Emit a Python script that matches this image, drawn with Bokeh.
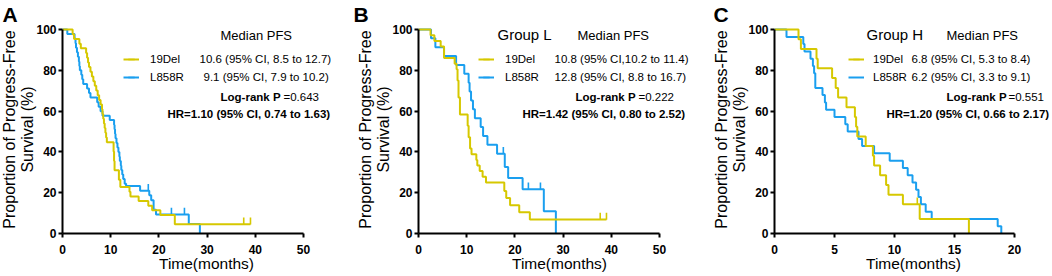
import math
from bokeh.plotting import figure
from bokeh.layouts import row
from bokeh.models import Range1d, Label, Legend, LegendItem, FixedTicker, ColumnDataSource, Title
from bokeh.transform import dodge
from bokeh.embed import file_html
from bokeh.resources import INLINE

FONT = "Liberation Sans"
YELLOW = "#D6C800"
BLUE = "#1A9FEF"

# ---------------- data (Kaplan-Meier step points: time in months, survival %) ----------------
# Panel A - all patients
A_del_t = [0, 2.1, 2.4, 3.5, 3.8, 4.9, 5.1, 5.3, 5.5, 5.8, 6.1, 6.4, 6.7, 7.0, 7.3, 7.6, 7.9, 8.2, 8.3, 8.45,
           8.6, 8.75, 8.9, 9.05, 9.2, 10.6, 10.7, 10.8, 11.7, 12.0, 13.9, 14.1, 15.8, 17.8, 18.6, 20.3, 23.3, 39.0]
A_del_s = [100, 97.7, 95.4, 93.1, 90.8, 88.5, 86.2, 83.9, 81.6, 79.3, 77.0, 74.7, 72.4, 70.1, 67.8, 65.5, 63.2, 60.9,
           58.6, 56.3, 54.0, 51.7, 49.4, 47.1, 44.8, 40.2, 35.6, 31.0, 26.4, 22.8, 20.5, 18.2, 15.9, 13.6, 11.4, 9.1,
           4.5, 4.5]
A_del_cens_t = [37.6, 39.0]
A_del_cens_s = [4.5, 4.5]

A_l858_t = [0, 1.0, 2.5, 2.7, 2.8, 3.0, 3.2, 3.4, 3.5, 3.6, 3.9, 4.1, 4.3, 5.1, 5.5, 5.8, 7.2, 7.5, 7.9, 8.3,
            9.8, 10.7, 10.8, 10.9, 11.0, 11.2, 11.4, 11.6, 11.8, 11.9, 12.1, 12.2, 12.4, 12.6, 12.9, 13.2, 16.1,
            18.0, 18.4, 18.9, 19.4, 26.2, 28.5]
A_l858_s = [100, 97.8, 95.6, 93.3, 91.1, 88.9, 86.7, 84.4, 82.2, 80.0, 77.8, 75.6, 73.3, 71.1, 68.9, 66.7, 64.4,
            62.2, 60.0, 57.8, 55.6, 53.3, 51.1, 48.9, 46.7, 44.4, 42.2, 40.0, 37.8, 35.6, 33.3, 31.1, 28.9, 26.7,
            24.4, 23.3, 21.0, 18.7, 16.3, 11.7, 9.3, 4.7, 0]
A_l858_cens_t = [17.8, 22.6, 25.3]
A_l858_cens_s = [21.0, 9.3, 9.3]

# Panel B - Group L
B_del_t = [0, 2.5, 3.3, 4.6, 5.3, 7.5, 7.9, 8.1, 8.3, 8.6, 10.2, 10.4, 10.7, 11.0, 12.0, 12.2, 12.7, 13.3, 14.0,
           17.8, 18.2, 19.0, 20.9, 23.1, 39.0]
B_del_s = [100, 97.2, 94.4, 91.7, 86.1, 83.3, 80.6, 75.0, 66.7, 58.3, 52.8, 47.2, 41.7, 38.9, 36.1, 33.3, 30.6,
           27.8, 25.0, 20.8, 17.4, 13.9, 10.4, 6.9, 6.9]
B_del_cens_t = [37.7, 39.0]
B_del_cens_s = [6.9, 6.9]

B_l858_t = [0, 2.6, 3.5, 5.3, 7.8, 9.5, 10.4, 10.6, 10.9, 11.3, 11.7, 12.9, 13.4, 14.3, 16.3, 17.9, 18.6, 21.6,
            26.0, 28.5]
B_l858_s = [100, 95.7, 91.3, 87.0, 82.6, 78.3, 73.9, 69.6, 65.2, 60.9, 56.5, 52.2, 47.8, 43.5, 39.1, 32.6, 27.2,
            21.7, 10.9, 0]
B_l858_cens_t = [17.6, 22.8, 25.3]
B_l858_cens_s = [39.1, 21.7, 21.7]

# Panel C - Group H
C_del_t = [0, 2.0, 2.2, 3.5, 3.6, 4.8, 5.1, 5.3, 6.0, 6.7, 6.8, 6.9, 7.6, 8.2, 8.3, 8.8, 9.3, 9.5, 10.7, 12.1, 16.2]
C_del_s = [100, 95.2, 90.5, 85.7, 81.0, 76.2, 71.4, 66.7, 61.9, 57.1, 52.4, 47.6, 42.9, 38.1, 33.3, 28.6, 23.8,
           19.0, 14.3, 7.1, 0]
C_del_cens_t = [11.9]
C_del_cens_s = [14.3]

C_l858_t = [0, 1.0, 2.4, 2.5, 3.0, 3.2, 3.3, 3.4, 4.0, 4.2, 4.3, 5.0, 5.9, 6.1, 7.0, 7.3, 8.3, 9.6, 10.7, 11.1,
            11.5, 11.8, 12.0, 12.2, 12.6, 13.1, 18.6, 18.9]
C_l858_s = [100, 96.4, 92.9, 89.3, 85.7, 82.1, 78.6, 71.4, 67.9, 64.3, 60.7, 57.1, 53.6, 50.0, 46.4, 42.9, 39.3,
            35.7, 32.1, 28.6, 25.0, 21.4, 17.9, 14.3, 10.7, 7.1, 3.6, 0]
C_l858_cens_t = []
C_l858_cens_s = []

SERIES_NAMES = ["19Del", "L858R"]
Y_TICKS = [0, 20, 40, 60, 80, 100]
X_TICKS_AB = [0, 10, 20, 30, 40, 50]
X_TICKS_C = [0, 5, 10, 15, 20]
Y_LABEL = ["Proportion of Progress-Free", "Survival (%)"]
X_LABEL = "Time(months)"

# ---------------- layout ----------------
TOTAL_H = 276
TOP = 25
FH = 208
BOTTOM = TOTAL_H - TOP - FH
YMAX = 102
FRAME_BOTTOM_ABS = TOP + FH

PANELS = [
    dict(letter="A", x0=0, width=350, left=62, axis_px=241, xmax=50, xticks=X_TICKS_AB,
         dele=(A_del_t, A_del_s, A_del_cens_t, A_del_cens_s),
         l858=(A_l858_t, A_l858_s, A_l858_cens_t, A_l858_cens_s),
         letter_x=2, legend_x=123, standoff=11,
         texts=[(220, 34.5, "Median PFS", "13px", False),
                (199, 58.6, "10.6 (95% CI, 8.5 to 12.7)", "11.5px", False),
                (203, 76.7, "9.1  (95% CI, 7.9 to 10.2)", "11.5px", False),
                (220, 96.5, "Log-rank P", "11.5px", True),
                (283, 96.5, "=0.643", "11.5px", False),
                (167, 113, "HR=1.10  (95% CI, 0.74 to 1.63)", "11.5px", True)]),
    dict(letter="B", x0=350, width=350, left=68, axis_px=241, xmax=50, xticks=X_TICKS_AB,
         dele=(B_del_t, B_del_s, B_del_cens_t, B_del_cens_s),
         l858=(B_l858_t, B_l858_s, B_l858_cens_t, B_l858_cens_s),
         letter_x=353, legend_x=478, standoff=11,
         texts=[(497, 33.5, "Group L", "15px", False),
                (577, 34.5, "Median PFS", "13px", False),
                (554, 58.6, "10.8 (95% CI,10.2 to 11.4)", "11.5px", False),
                (554, 76.7, "12.8 (95% CI, 8.8  to 16.7)", "11.5px", False),
                (575, 96.5, "Log-rank P", "11.5px", True),
                (638, 96.5, "=0.222", "11.5px", False),
                (522, 113, "HR=1.42  (95% CI, 0.80 to 2.52)", "11.5px", True)]),
    dict(letter="C", x0=700, width=352, left=74, axis_px=240, xmax=20, xticks=X_TICKS_C,
         dele=(C_del_t, C_del_s, C_del_cens_t, C_del_cens_s),
         l858=(C_l858_t, C_l858_s, C_l858_cens_t, C_l858_cens_s),
         letter_x=713, legend_x=848, standoff=9,
         texts=[(866, 33.5, "Group H", "15px", False),
                (946, 34.5, "Median PFS", "13px", False),
                (911, 58.6, "6.8  (95% CI, 5.3 to 8.4)", "11.5px", False),
                (911, 76.7, "6.2  (95% CI, 3.3 to 9.1)", "11.5px", False),
                (946, 96.5, "Log-rank P", "11.5px", True),
                (1008, 96.5, "=0.551", "11.5px", False),
                (886, 113, "HR=1.20  (95% CI, 0.66 to 2.17)", "11.5px", True)]),
]


def build(spec):
    W, L, apx, xmax = spec["width"], spec["left"], spec["axis_px"], spec["xmax"]
    fl = spec["x0"] + L
    frame_w = W - L
    xend = xmax * frame_w / apx

    def X(ax):
        return (ax - fl) * xmax / apx

    def Y(ay):
        return (FRAME_BOTTOM_ABS - ay) * YMAX / FH

    p = figure(width=W, height=TOTAL_H, x_range=Range1d(0, xend), y_range=Range1d(0, YMAX),
               output_backend="svg", toolbar_location=None,
               min_border_left=L, min_border_right=0,
               min_border_top=TOP, min_border_bottom=BOTTOM)
    p.outline_line_color = None
    p.xgrid.visible = False
    p.ygrid.visible = False
    for ax in (p.xaxis[0], p.yaxis[0]):
        ax.axis_line_width = 2
        ax.axis_line_color = "black"
        ax.major_tick_line_width = 2
        ax.major_tick_line_color = "black"
        ax.major_tick_out = 4
        ax.major_tick_in = 0
        ax.minor_tick_line_color = None
        ax.major_label_text_font = FONT
        ax.major_label_text_font_size = "12px"
        ax.major_label_text_font_style = "bold"
        ax.major_label_text_color = "black"
        ax.axis_label_text_font = FONT
        ax.axis_label_text_font_style = "normal"
        ax.axis_label_text_color = "black"
    p.xaxis.ticker = FixedTicker(ticks=spec["xticks"])
    p.yaxis.ticker = FixedTicker(ticks=Y_TICKS)
    p.yaxis.bounds = (0, 100)
    p.xaxis.bounds = (0, xmax)
    p.xaxis.major_label_standoff = 7
    p.yaxis.major_label_standoff = 2
    p.xaxis.axis_label = X_LABEL
    p.xaxis.axis_label_text_font_size = "15.5px"
    p.xaxis.axis_label_standoff = -2
    p.yaxis.axis_label = Y_LABEL[1]
    p.yaxis.axis_label_text_font_size = "16px"
    p.yaxis.axis_label_standoff = -3
    p.add_layout(Title(text=Y_LABEL[0], align="center", text_font=FONT, text_font_size="16px",
                       text_font_style="normal", text_color="black", standoff=-3), "left")

    p.title.text = spec["letter"]
    p.title.align = "left"
    p.title.offset = spec["letter_x"] - fl
    p.title.text_font = FONT
    p.title.text_font_size = "21px"
    p.title.text_font_style = "bold"
    p.title.text_color = "black"
    p.title.standoff = 0

    renderers = {}
    for key, color in (("l858", BLUE), ("dele", YELLOW)):
        t, s, ct, cs = spec[key]
        src = ColumnDataSource(dict(t=t, s=s))
        r = p.step("t", "s", source=src, mode="after", line_width=2, line_color=color)
        csrc = ColumnDataSource(dict(t=ct, s=cs))
        c = p.scatter(x="t", y=dodge("s", 1.6, range=p.y_range), source=csrc, marker="dash",
                      angle=math.pi / 2, size=7, line_color=color, line_width=1.6)
        renderers[key] = (r, c)

    legend = Legend(items=[LegendItem(label=SERIES_NAMES[0], renderers=list(renderers["dele"])),
                           LegendItem(label=SERIES_NAMES[1], renderers=list(renderers["l858"]))],
                    location=(spec["legend_x"] - fl, 147), orientation="vertical",
                    padding=0, margin=0, spacing=0, glyph_width=16, glyph_height=18, label_height=18,
                    label_standoff=spec["standoff"], background_fill_alpha=0, border_line_alpha=0,
                    label_text_font=FONT, label_text_font_size="11.5px", label_text_color="black")
    p.add_layout(legend)

    for (ax, ay, text, size, bold) in spec["texts"]:
        p.add_layout(Label(x=X(ax), y=Y(ay), text=text, text_font=FONT, text_font_size=size,
                           text_font_style="bold" if bold else "normal", text_align="left",
                           text_baseline="middle", text_color="black"))
    return p


figs = [build(s) for s in PANELS]
layout = row(*figs)
open("out.html", "w").write(file_html(layout, INLINE))
